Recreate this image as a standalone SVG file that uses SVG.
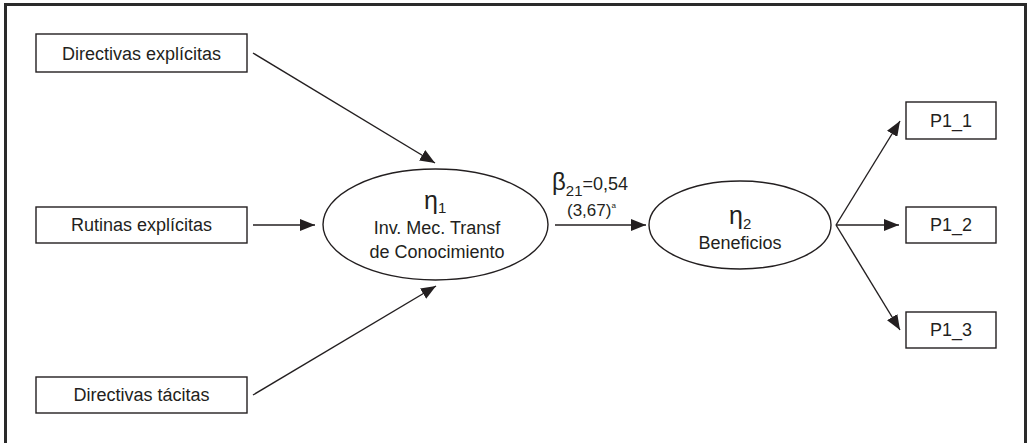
<svg xmlns="http://www.w3.org/2000/svg" width="1028" height="443" viewBox="0 0 1028 443">
<defs>
<style>
.box{fill:#fff;stroke:#231f20;stroke-width:1.4}
.ell{fill:#fff;stroke:#231f20;stroke-width:1.4}
.t{font-family:"Liberation Sans",Arial,sans-serif;font-size:18px;fill:#231f20;text-anchor:middle}
.g{font-family:"Liberation Sans",Arial,sans-serif;fill:#231f20}
.c{stroke:#231f20;stroke-width:1.4;fill:none;marker-end:url(#ah)}
</style>
<marker id="ah" markerUnits="userSpaceOnUse" markerWidth="16" markerHeight="12" refX="15" refY="6" orient="auto">
<path d="M0,0 L15,6 L0,12 Z" fill="#231f20"/>
</marker>
</defs>
<rect width="1028" height="443" fill="#fff"/>
<path d="M5.5,443 V4.5 H1025.5 V443" fill="none" stroke="#2a2a2a" stroke-width="3"/>
<g id="connectors">
<line class="c" x1="253" y1="53" x2="435" y2="163"/>
<line class="c" x1="253" y1="225" x2="315" y2="225"/>
<line class="c" x1="253" y1="395" x2="436" y2="286"/>
<line class="c" x1="555" y1="225" x2="646" y2="225"/>
<line class="c" x1="836" y1="225" x2="900" y2="121"/>
<line class="c" x1="836" y1="225" x2="899" y2="225"/>
<line class="c" x1="836" y1="225" x2="900" y2="330"/>
<g id="label-beta">
<text class="g" x="552" y="190" font-size="24">β<tspan font-size="15" dy="6">21</tspan><tspan font-size="18" dy="-6">=0,54</tspan></text>
<text class="g" x="567" y="216" font-size="17">(3,67)<tspan font-size="8" dy="-8">a</tspan></text>
</g>
</g>
<g id="n-dir-exp">
<rect class="box" x="36" y="34" width="211" height="38"/>
<text class="t" x="141.5" y="60">Directivas explícitas</text>
</g>
<g id="n-rut-exp">
<rect class="box" x="36" y="207" width="211" height="36"/>
<text class="t" x="141.5" y="231">Rutinas explícitas</text>
</g>
<g id="n-dir-tac">
<rect class="box" x="36" y="377" width="211" height="36"/>
<text class="t" x="141.5" y="401">Directivas tácitas</text>
</g>
<g id="n-eta1">
<ellipse class="ell" cx="435.5" cy="224.5" rx="112.5" ry="55.5"/>
<text class="g" x="424" y="209" font-size="25">η<tspan font-size="15" dy="4">1</tspan></text>
<text class="t" x="437" y="234">Inv. Mec. Transf</text>
<text class="t" x="437" y="258">de Conocimiento</text>
</g>
<g id="n-eta2">
<ellipse class="ell" cx="740" cy="225" rx="91" ry="44"/>
<text class="g" x="729" y="224" font-size="25">η<tspan font-size="15" dy="5">2</tspan></text>
<text class="t" x="740" y="249">Beneficios</text>
</g>
<g id="n-p11">
<rect class="box" x="906" y="102" width="90" height="37"/>
<text class="t" x="951" y="127">P1_1</text>
</g>
<g id="n-p12">
<rect class="box" x="906" y="207" width="90" height="36"/>
<text class="t" x="951" y="231">P1_2</text>
</g>
<g id="n-p13">
<rect class="box" x="906" y="312" width="90" height="36"/>
<text class="t" x="951" y="336">P1_3</text>
</g>
</svg>
